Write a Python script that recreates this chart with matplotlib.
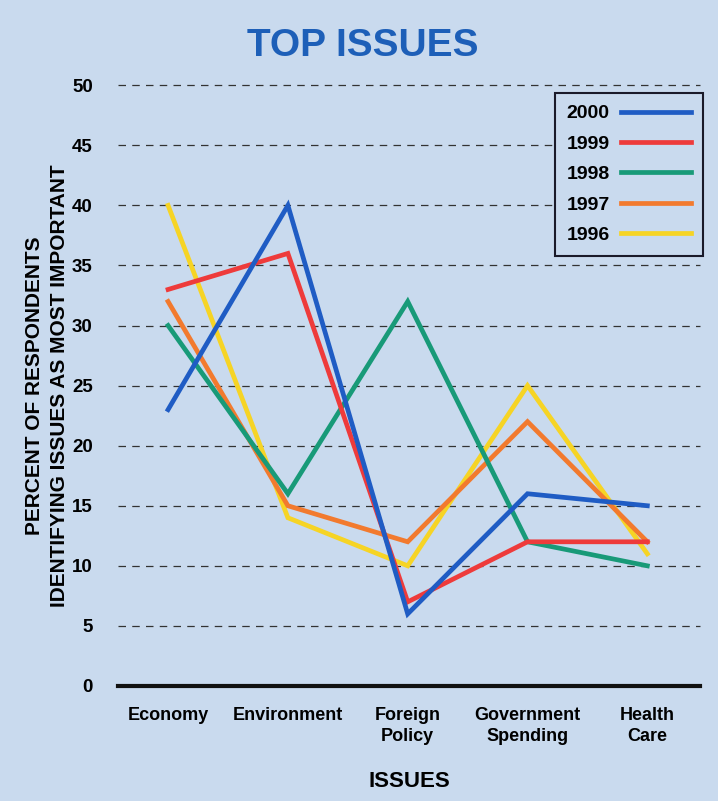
import matplotlib
matplotlib.use("Agg")
import matplotlib.pyplot as plt

# ---- data ------------------------------------------------------------------
issues = ["Economy", "Environment", "Foreign\nPolicy", "Government\nSpending", "Health\nCare"]
years = ["2000", "1999", "1998", "1997", "1996"]
v2000 = [23, 40, 6, 16, 15]
v1999 = [33, 36, 7, 12, 12]
v1998 = [30, 16, 32, 12, 10]
v1997 = [32, 15, 12, 22, 12]
v1996 = [40, 14, 10, 25, 11]
colors = ["#1f5cc4", "#ee3b3b", "#189a78", "#f27a2e", "#f6d425"]
yticks = [0, 5, 10, 15, 20, 25, 30, 35, 40, 45, 50]

BG = "#c9daee"
plt.rcParams["font.family"] = ["Liberation Sans", "DejaVu Sans"]
plt.rcParams["font.weight"] = "bold"

fig = plt.figure(figsize=(7.18, 8.01), dpi=100, facecolor=BG)
ax = fig.add_axes([0.164, 0.1436, 0.811, 0.750], facecolor=BG)

series = [v2000, v1999, v1998, v1997, v1996]
x = list(range(len(issues)))
# draw oldest first so 2000 sits on top
for i in reversed(range(len(years))):
    ax.plot(x, series[i], color=colors[i], lw=3.4, label=years[i],
            solid_joinstyle="miter", zorder=3 + (len(years) - i))

ax.set_xlim(-0.42, 4.44)
ax.set_ylim(0, 50)
ax.set_yticks(yticks)
ax.set_yticklabels([str(t) for t in yticks], fontsize=13.5, fontweight="bold")
ax.set_xticks(x)
ax.set_xticklabels(issues, fontsize=13, fontweight="bold", linespacing=1.3)
ax.tick_params(axis="x", length=0, pad=15)
ax.tick_params(axis="y", length=0, pad=18)

for t in yticks[1:]:
    ax.axhline(t, color="#333333", lw=0.9, ls=(0, (6, 5)), zorder=1, clip_on=False)
ax.axhline(0, color="#111111", lw=3, zorder=2, clip_on=False)

for s in ax.spines.values():
    s.set_visible(False)

ax.set_xlabel("ISSUES", fontsize=16, fontweight="bold", labelpad=19)
ax.set_ylabel("PERCENT OF RESPONDENTS\nIDENTIFYING ISSUES AS MOST IMPORTANT",
              fontsize=15, fontweight="bold", labelpad=2, linespacing=1.4)

fig.text(0.505, 0.943, "TOP ISSUES", ha="center", va="center", fontsize=28,
         fontweight="bold", color="#1d5fb8")

handles, labels = ax.get_legend_handles_labels()
order = [labels.index(y) for y in years]
leg = ax.legend([handles[k] for k in order], [labels[k] for k in order],
                loc="upper right", bbox_to_anchor=(1.005, 0.987), borderaxespad=0,
                markerfirst=False, fontsize=14, handlelength=3.6, handletextpad=0.6,
                labelspacing=0.66, borderpad=0.6, fancybox=False, framealpha=1)
leg.get_frame().set_facecolor(BG)
leg.get_frame().set_edgecolor("#1a1a2a")
leg.get_frame().set_linewidth(1.5)
for t in leg.get_texts():
    t.set_fontweight("bold")

fig.savefig("out.png", dpi=100, facecolor=BG)
